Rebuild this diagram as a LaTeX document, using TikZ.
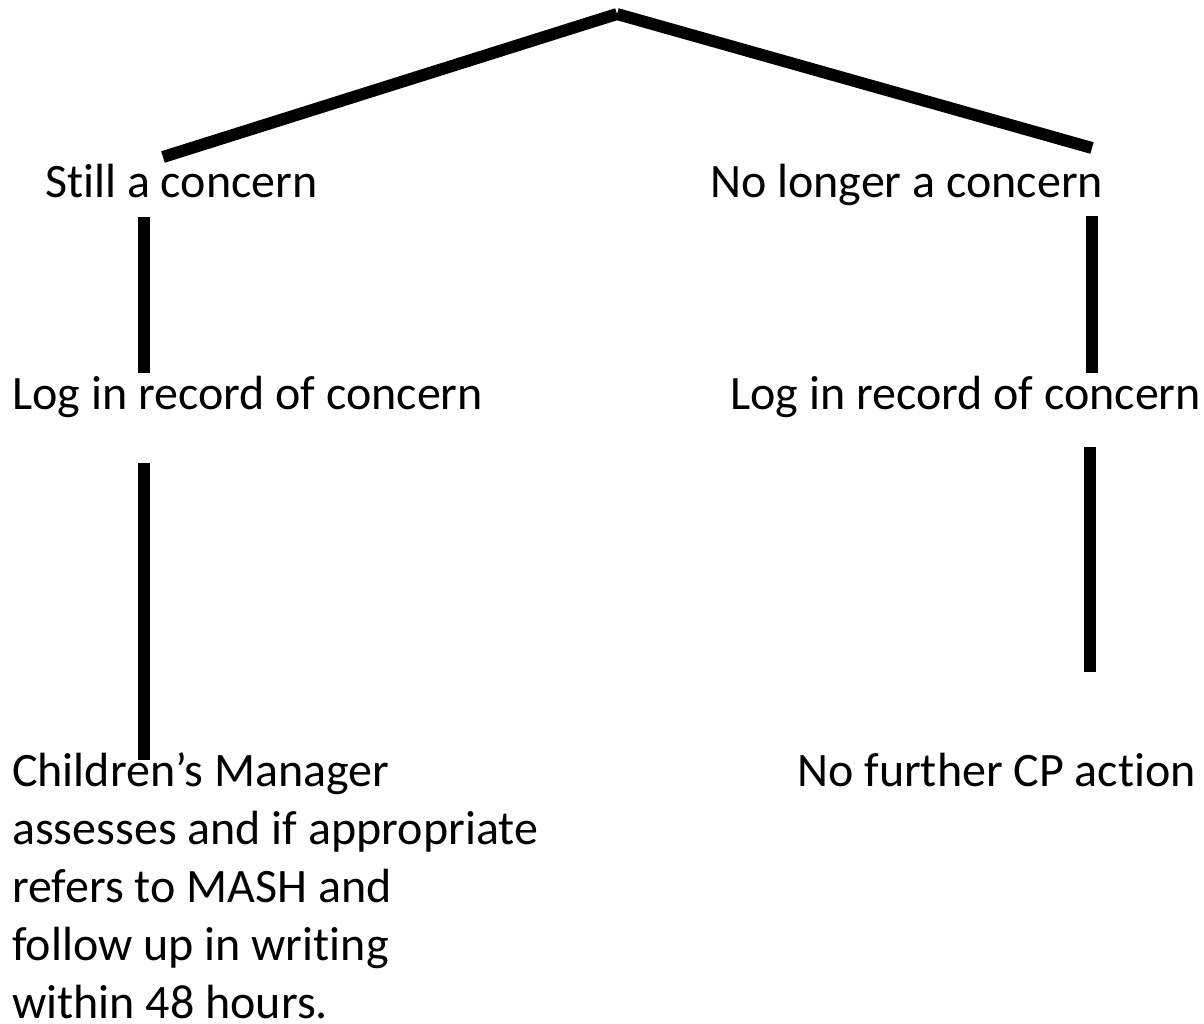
\documentclass[tikz,border=0pt]{standalone}
\usepackage{fontspec}
\setmainfont{Carlito}[Ligatures=NoCommon]
\tikzset{
  branch/.style={line width=12pt, line cap=butt},
  label/.style={anchor=base west, inner sep=0pt, font=\fontsize{48}{58}\selectfont}
}

\begin{document}
\begin{tikzpicture}[x=1pt,y=-1pt]
        % fix the page to the size of the reference
        \useasboundingbox (0,0) rectangle (1204,1023);

        % the texts
        \node[label] (still) at (45,197) {Still a concern};
        \node[label] (nolonger) at (710,197) {No longer a concern};
        \node[label] (logleft) at (12,409) {Log in record of concern};
        \node[label] (logright) at (730,409) {Log in record of concern};
        \node[label] (nofurther) at (797,786) {No further CP action};
        % the base of a node with more lines is the last line
        \node[label, align=left] (manager) at (12,1018) {Children’s Manager\\
              assesses and if appropriate\\
              refers to MASH and\\
              follow up in writing\\
              within 48 hours.};

        % the ends of the lines
        \coordinate (top) at (617,14);
        \coordinate (stillend) at (163,157);
        \coordinate (nolongerend) at (1092,148);
        \coordinate (la) at (144,217);
        \coordinate (lb) at (144,373);
        \coordinate (lc) at (144,463);
        \coordinate (ld) at (144,760);
        \coordinate (ra) at (1092,216);
        \coordinate (rb) at (1092,373);
        \coordinate (rc) at (1090,447);
        \coordinate (rd) at (1090,672);

        % the branches
        \draw[branch] (stillend) -- (top);
        \draw[branch] (top) -- (nolongerend);
        \draw[branch] (la) -- (lb);
        \draw[branch] (lc) -- (ld);
        \draw[branch] (ra) -- (rb);
        \draw[branch] (rc) -- (rd);
\end{tikzpicture}
\end{document}
